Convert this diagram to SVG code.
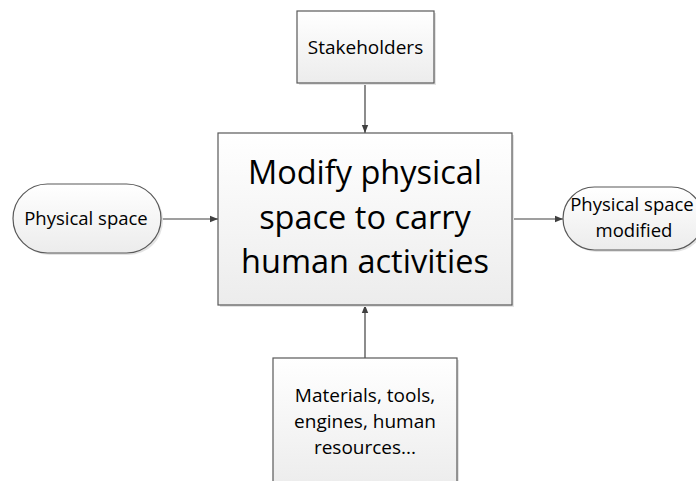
<svg xmlns="http://www.w3.org/2000/svg" width="696" height="481" viewBox="0 0 696 481">
<defs>
<linearGradient id="g" x1="0" y1="0" x2="0" y2="1">
<stop offset="0" stop-color="#ffffff"/>
<stop offset="1" stop-color="#ececec"/>
</linearGradient>
<marker id="ah" viewBox="0 0 10 10" refX="10" refY="5" markerWidth="8" markerHeight="8" markerUnits="userSpaceOnUse" orient="auto">
<path d="M0,1 L10,5 L0,9 z" fill="#404040"/>
</marker>
</defs>
<style>
.box{fill:url(#g);stroke:#595959;stroke-width:1.2}
.sh{fill:#e3e3e3}
.t{font-family:"Open Sans","Noto Sans",sans-serif;fill:#000;text-anchor:middle}
.s{font-size:19px}
.c{stroke:#404040;stroke-width:1.2;fill:none;marker-end:url(#ah)}
</style>
<rect width="696" height="481" fill="#fff"/>
<g id="connectors">
<line class="c" x1="365" y1="83" x2="365" y2="133"/>
<line class="c" x1="161" y1="219" x2="218" y2="219"/>
<line class="c" x1="512" y1="219" x2="563" y2="219"/>
<line class="c" x1="365" y1="358" x2="365" y2="305"/>
</g>
<g id="stakeholders">
<rect class="sh" x="299" y="13" width="137" height="72"/>
<rect class="box" x="297" y="11" width="137" height="72"/>
<text class="t s" x="365.5" y="54">Stakeholders</text>
</g>
<g id="main">
<rect class="sh" x="220" y="135" width="294" height="172"/>
<rect class="box" x="218" y="133" width="294" height="172"/>
<text class="t" x="365" y="184" font-size="32.5">Modify physical</text>
<text class="t" x="365" y="229" font-size="32.5">space to carry</text>
<text class="t" x="365" y="273" font-size="32.5">human activities</text>
</g>
<g id="physical-space">
<rect class="sh" x="15" y="186" width="148" height="69" rx="34.5"/>
<rect class="box" x="13" y="184" width="148" height="69" rx="34.5"/>
<text class="t" x="86" y="225" font-size="18.5">Physical space</text>
</g>
<g id="physical-space-modified">
<rect class="sh" x="565" y="189" width="140" height="63" rx="31.5"/>
<rect class="box" x="563" y="187" width="140" height="63" rx="31.5"/>
<text class="t" x="632" y="211" font-size="18.5">Physical space</text>
<text class="t" x="634" y="237" font-size="18.5">modified</text>
</g>
<g id="resources">
<rect class="sh" x="275" y="360" width="184" height="130"/>
<rect class="box" x="273" y="358" width="184" height="130"/>
<text class="t s" x="365" y="402">Materials, tools,</text>
<text class="t s" x="365" y="428">engines, human</text>
<text class="t s" x="365" y="454">resources...</text>
</g>
</svg>
